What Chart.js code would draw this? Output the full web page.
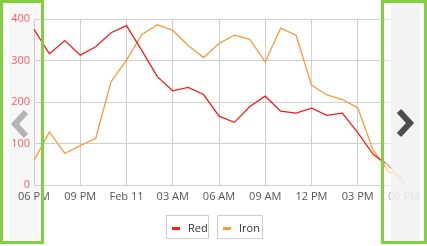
<!DOCTYPE html>
<html>
<head>
<meta charset="utf-8">
<script src="https://cdn.jsdelivr.net/npm/chart.js@4"></script>
<style>
	body { margin: 0; background: #fff; font-family: "Open Sans", sans-serif; }
	#wrap { position: relative; width: 427px; height: 246px; overflow: hidden; }
	#chart { position: absolute; left: 0; top: 0; z-index: 1; }
	.nav { position: absolute; top: 0; height: 244px; box-sizing: border-box; border: 3px solid #80d040; z-index: 3; }
	#navLeftBg { position: absolute; left: 9px; top: 0; width: 30px; height: 246px; background: #f7f7f7; z-index: 0; }
	#navRightBg { position: absolute; left: 385px; top: 3px; width: 38px; height: 238px; background: rgba(255,255,255,0.55); z-index: 2; }
	#navRightGray { position: absolute; left: 391px; top: 3px; width: 29px; height: 238px; background: rgba(240,240,240,0.8); z-index: 2; }
	.arrow { position: absolute; z-index: 4; }
	.legend { position: absolute; top: 215px; height: 24px; box-sizing: border-box; border: 1px solid #cfcfcf; font-size: 11px; color: #333; z-index: 2; }
	.legend i { position: absolute; left: 5px; top: 11px; width: 8px; height: 3px; }
	.legend span { position: absolute; left: 21px; top: 4px; }
</style>
</head>
<body>
<div id="wrap">
	<div id="navLeftBg"></div>
	<canvas id="chart" width="427" height="246"></canvas>
	<div id="navRightBg"></div>
	<div id="navRightGray"></div>
	<div class="nav" style="left:0;width:44px;"></div>
	<div class="nav" style="left:381px;width:46px;"></div>
	<svg class="arrow" style="left:10px;top:109px;" width="22" height="30"><polyline points="16,3 5,15 16,27" fill="none" stroke="#b4b4b4" stroke-width="6"/></svg>
	<svg class="arrow" style="left:394px;top:108px;" width="22" height="30"><polyline points="5,3 16,15 5,27" fill="none" stroke="#4d4d4d" stroke-width="6"/></svg>
	<div class="legend" style="left:166px;width:43px;"><i style="background:#ff1a1a"></i><span>Red</span></div>
	<div class="legend" style="left:217px;width:46px;"><i style="background:#ff9933"></i><span>Iron</span></div>
</div>
<script>
const times = ["06 PM", "07 PM", "08 PM", "09 PM", "10 PM", "11 PM", "Feb 11", "01 AM", "02 AM",
	"03 AM", "04 AM", "05 AM", "06 AM", "07 AM", "08 AM", "09 AM", "10 AM", "11 AM", "12 PM",
	"01 PM", "02 PM", "03 PM", "04 PM", "05 PM", "06 PM"];
const redValues = [375, 316, 348, 313, 333, 367, 384, 324, 261, 227, 235, 218, 166, 151, 189,
	214, 178, 173, 185, 168, 173, 126, 74, 47, 4];
const ironValues = [59, 128, 76, 95, 112, 249, 301, 363, 386, 373, 336, 307, 341, 361, 351,
	297, 378, 361, 241, 217, 206, 186, 84, 32, 16];
const yTicks = [0, 100, 200, 300, 400];

document.addEventListener("DOMContentLoaded", () => {
	Chart.defaults.font.family = "'Open Sans', sans-serif";
	Chart.defaults.font.size = 11;

	const ctx = document.getElementById("chart").getContext("2d");
	new Chart(ctx, {
		type: "line",
		data: {
			labels: times,
			datasets: [
				{ label: "Red", data: redValues, borderColor: "#ff1a1a", borderWidth: 1.3, pointRadius: 0, tension: 0 },
				{ label: "Iron", data: ironValues, borderColor: "#ff9933", borderWidth: 1.3, pointRadius: 0, tension: 0 },
			],
		},
		options: {
			responsive: false,
			animation: false,
			layout: { padding: { top: 19, right: 23, bottom: 0, left: 0 } },
			plugins: { legend: { display: false }, tooltip: { enabled: false } },
			scales: {
				x: {
					offset: false,
					grid: {
						drawTicks: false,
						color: (c) => (c.index % 3 === 0 ? "#d0d0d0" : "rgba(0,0,0,0)"),
					},
					border: { display: false },
					ticks: {
						autoSkip: false,
						maxRotation: 0,
						padding: 5,
						color: "#555",
						callback: (v, i) => (i % 3 === 0 ? times[i] : ""),
					},
					afterFit: (s) => { s.height = 61; },
				},
				y: {
					min: yTicks[0],
					max: yTicks[yTicks.length - 1],
					grid: { drawTicks: false, color: "#d0d0d0" },
					border: { color: "#d0d0d0" },
					afterBuildTicks: (s) => { s.ticks = yTicks.map((v) => ({ value: v })); },
					ticks: { padding: 4, color: "#ff5c5c" },
					afterFit: (s) => { s.width = 34; },
				},
			},
		},
	});
});
</script>
</body>
</html>
